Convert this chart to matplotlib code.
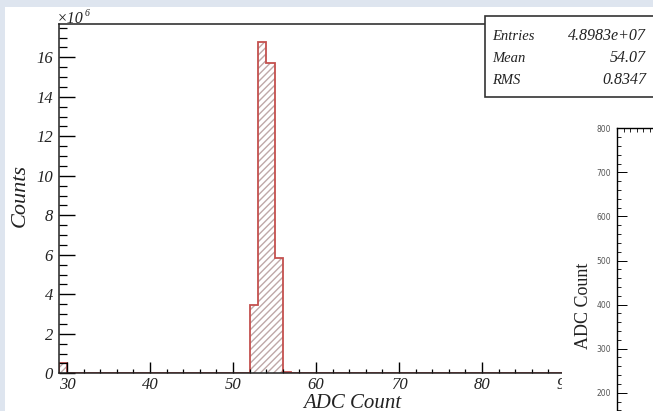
import numpy as np
import matplotlib
matplotlib.use('Agg')
import matplotlib.pyplot as plt
from matplotlib.patches import Rectangle
from matplotlib.ticker import MultipleLocator

# histogram data (ADC count, 1 count per bin)
bin_edges = np.arange(29, 91)
peak_lo = [29, 52, 53, 54, 55, 56]
peak_counts = [0.5e6, 3.46e6, 16.76e6, 15.70e6, 5.85e6, 0.08e6]

stat_names = ['Entries', 'Mean', 'RMS']
stat_values = ['4.8983e+07', '54.07', '0.8347']

right_ticks = [200, 300, 400, 500, 600, 700, 800]

W, H = 653, 411
def fx(x):
    return x / W
def fy(y):
    return 1 - y / H

serif = ['Liberation Serif', 'DejaVu Serif']
plt.rcParams['font.family'] = serif

fig = plt.figure(figsize=(W / 100, H / 100), dpi=100, facecolor='#dee5ef')
fig.patches.append(Rectangle((fx(5), 0), 1, fy(7), transform=fig.transFigure,
                             facecolor='white', edgecolor='none', zorder=-1))

# main histogram
ax = fig.add_axes([fx(58.7), fy(373.3), fx(565) - fx(58.7), fy(24.3) - fy(373.3)])
hist = np.zeros(len(bin_edges) - 1)
for lo, c in zip(peak_lo, peak_counts):
    hist[lo - bin_edges[0]] = c

ax.stairs(hist, bin_edges, fill=True, hatch='/////', facecolor='none',
          edgecolor='#bfa8a8', linewidth=0)
ax.stairs(hist, bin_edges, color='#c4504e', linewidth=1.3)

ax.set_xlim(29, 90)
ax.set_ylim(0, 17.67e6)
ax.xaxis.set_major_locator(MultipleLocator(10))
ax.xaxis.set_minor_locator(MultipleLocator(2))
ax.yaxis.set_minor_locator(MultipleLocator(0.5e6))
ax.set_yticks(np.arange(0, 17e6, 2e6))
ax.set_yticklabels([str(int(v / 1e6)) for v in np.arange(0, 17e6, 2e6)])

ax.spines['right'].set_visible(False)
for s in ['left', 'bottom', 'top']:
    ax.spines[s].set_linewidth(1.1)
    ax.spines[s].set_color('#222222')
ax.tick_params(axis='y', which='major', direction='in', length=11.5, width=1.0, pad=4)
ax.tick_params(axis='y', which='minor', direction='in', length=5.8, width=0.9)
ax.tick_params(axis='x', which='major', direction='in', length=8, width=1.0, pad=3)
ax.tick_params(axis='x', which='minor', direction='in', length=3, width=0.9)
for lab in ax.get_xticklabels() + ax.get_yticklabels():
    lab.set_fontstyle('italic')
    lab.set_fontsize(12)
    lab.set_color('#222222')

fig.text(fx(20), fy(195), 'Counts', rotation=90, ha='center', va='center',
         fontsize=16, fontstyle='italic', color='#222222')
fig.text(fx(352), fy(403), 'ADC Count', ha='center', va='center',
         fontsize=15, fontstyle='italic', color='#222222')
fig.text(fx(57), fy(19), '×10', ha='left', va='center',
         fontsize=11.5, fontstyle='italic', color='#222222')
fig.text(fx(85), fy(13), '6', ha='left', va='center',
         fontsize=7, fontstyle='italic', color='#222222')

# stats box
fig.patches.append(Rectangle((fx(485), fy(97)), fx(670) - fx(485), fy(16) - fy(97),
                             transform=fig.transFigure, facecolor='white',
                             edgecolor='#333333', linewidth=1.2, zorder=3))
for i, (n, v) in enumerate(zip(stat_names, stat_values)):
    yy = fy(36 + 22 * i)
    fig.text(fx(492), yy, n, ha='left', va='center', fontsize=10.5,
             fontstyle='italic', color='#222222', zorder=4)
    fig.text(fx(646), yy, v, ha='right', va='center', fontsize=11.5,
             fontstyle='italic', color='#222222', zorder=4)

# neighbouring panel covering the right edge
fig.patches.append(Rectangle((fx(562), 0), 1, fy(105), transform=fig.transFigure,
                             facecolor='white', edgecolor='none', zorder=0.5))
ax2 = fig.add_axes([fx(617), fy(128.3 + 800 * 0.4407), 0.4, 800 * 0.4407 / H], zorder=1)
ax2.set_ylim(0, 800)
ax2.set_xlim(0, 40)
ax2.set_yticks(right_ticks)
ax2.set_yticklabels([str(t) for t in right_ticks])
ax2.yaxis.set_minor_locator(MultipleLocator(20))
ax2.xaxis.set_minor_locator(MultipleLocator(1))
ax2.xaxis.set_major_locator(MultipleLocator(10))
ax2.tick_params(axis='x', which='both', top=True, bottom=False, labelbottom=False,
                direction='in', length=3, width=0.6)
ax2.tick_params(axis='y', which='major', direction='in', length=7, width=0.7, pad=4,
                labelsize=5.5, labelcolor='#555555')
ax2.tick_params(axis='y', which='minor', direction='in', length=3, width=0.6)
for lab in ax2.get_yticklabels():
    lab.set_family(['DejaVu Sans'])
ax2.spines['right'].set_visible(False)
ax2.spines['bottom'].set_visible(False)
ax2.spines['left'].set_linewidth(1.0)
ax2.spines['top'].set_linewidth(1.0)
fig.text(fx(583), fy(306), 'ADC Count', rotation=90, ha='center', va='center',
         fontsize=13, color='#222222', zorder=2)

fig.savefig('out.png', dpi=100, facecolor=fig.get_facecolor())
